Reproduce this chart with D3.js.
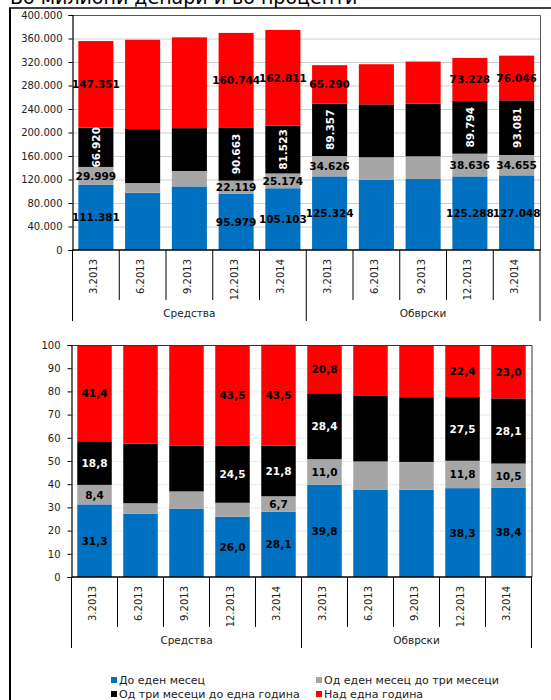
<!DOCTYPE html>
<html>
<head>
<meta charset="utf-8">
<script src="https://cdn.jsdelivr.net/npm/d3@7"></script>
<style>
  html, body { margin: 0; padding: 0; background: #fff; }
  svg { display: block; }
  text { font-family: "DejaVu Sans", Verdana, sans-serif; }
</style>
</head>
<body>
<svg id="chart" width="551" height="700"></svg>
<script>
// ---------- data ----------
const titleText = "Во милиони денари и во проценти";
const dates = ["3.2013", "6.2013", "9.2013", "12.2013", "3.2014"];
const groups = ["Средства", "Обврски"];
const seriesNames = ["До еден месец", "Од еден месец до три месеци", "Од три месеци до една година", "Над една година"];
const seriesColors = ["#0070C0", "#A6A6A6", "#000000", "#FF0000"];

// amounts, millions of denars (Средства x5, then Обврски x5)
const upToOneMonth        = [111381,  97500, 108200,  95979, 105103, 125324, 119700, 120800, 125288, 127048];
const oneToThreeMonths    = [ 29999,  16500,  26300,  22119,  25174,  34626,  38100,  38700,  38636,  34655];
const threeMonthsToOneYear= [ 66920,  92000,  72900,  90663,  81523,  89357,  90100,  89500,  89794,  93081];
const overOneYear         = [147351, 151800, 154600, 160744, 162811,  65290,  68300,  71800,  73228,  76046];

// shares, percent
const shareUpToOneMonth   = [31.3, 27.2, 29.5, 26.0, 28.1, 39.8, 37.7, 37.6, 38.3, 38.4];
const shareOneToThree     = [ 8.4,  4.6,  7.4,  6.0,  6.7, 11.0, 12.1, 12.0, 11.8, 10.5];
const shareThreeToYear    = [18.8, 25.7, 19.8, 24.5, 21.8, 28.4, 28.5, 27.9, 27.5, 28.1];
const shareOverYear       = [41.4, 42.5, 43.3, 43.5, 43.5, 20.8, 21.7, 22.5, 22.4, 23.0];

const amountTicks = [0, 40000, 80000, 120000, 160000, 200000, 240000, 280000, 320000, 360000, 400000];
const shareTicks  = [0, 10, 20, 30, 40, 50, 60, 70, 80, 90, 100];

// which bars carry data labels; [series, bar] pairs without label in the share chart
const labeledBars = [0, 3, 4, 5, 8, 9];
const hiddenShareLabels = [[1, 3]];

// ---------- helpers ----------
const locale = d3.formatLocale({ decimal: ",", thousands: ".", grouping: [3], currency: ["", ""] });
const fmtAmount = locale.format(",.0f");
const fmtShare = locale.format(".1f");

const categories = [];
groups.forEach(g => dates.forEach(d => categories.push({ group: g, date: d })));

function buildRows(arrs) {
  return categories.map((c, i) => {
    const r = { i };
    arrs.forEach((a, k) => r["s" + k] = a[i]);
    return r;
  });
}
const keys = ["s0", "s1", "s2", "s3"];

const svg = d3.select("#chart");

// title (cut at top) and frame
svg.append("text").attr("x", 10).attr("y", 4).attr("font-size", 19).attr("fill", "#000").text(titleText);
svg.append("line").attr("x1", 9).attr("x2", 551).attr("y1", 8).attr("y2", 8).attr("stroke", "#000").attr("stroke-width", 1.5);
svg.append("line").attr("x1", 10).attr("x2", 10).attr("y1", 8).attr("y2", 700).attr("stroke", "#000").attr("stroke-width", 2);

function drawChart(opt) {
  const g = svg.append("g");
  const x = d3.scaleBand().domain(d3.range(categories.length)).range([opt.left, opt.right])
    .paddingInner(0.25).paddingOuter(0.125);
  const y = d3.scaleLinear().domain(opt.domain).range([opt.bottom, opt.top]);
  const step = x.step();

  // grid
  g.append("g").selectAll("line").data(opt.ticks.filter(t => t > opt.domain[0] && t < opt.domain[1]))
    .join("line")
    .attr("x1", opt.left).attr("x2", opt.right)
    .attr("y1", d => y(d) + 0.5).attr("y2", d => y(d) + 0.5)
    .attr("stroke", opt.gridColor).attr("stroke-width", 1)
    .attr("stroke-dasharray", opt.gridDash);

  // bars
  const stacked = d3.stack().keys(keys)(buildRows(opt.values));
  stacked.forEach((layer, k) => {
    g.append("g").selectAll("rect").data(layer).join("rect")
      .attr("x", (d, i) => x(i))
      .attr("width", x.bandwidth())
      .attr("y", d => y(d[1]))
      .attr("height", d => y(d[0]) - y(d[1]))
      .attr("fill", seriesColors[k]);
  });

  // plot border (top + right)
  g.append("path")
    .attr("d", `M${opt.left},${opt.top + 0.5}H${opt.right + 0.5}V${opt.bottom}`)
    .attr("fill", "none").attr("stroke", opt.borderColor).attr("stroke-width", 1);

  // y axis
  const ya = g.append("g").attr("transform", `translate(${opt.left},0)`)
    .call(d3.axisLeft(y).tickValues(opt.ticks).tickSize(4).tickPadding(opt.tickPad).tickFormat(opt.tickFmt));
  ya.select(".domain").attr("stroke", "#000").attr("stroke-width", 1.2);
  ya.selectAll(".tick line").attr("stroke", "#000");
  ya.selectAll(".tick text").attr("font-size", 10).attr("fill", "#222")
    .attr("font-family", "DejaVu Sans, sans-serif");

  // x axis line
  g.append("line").attr("x1", opt.left).attr("x2", opt.right + 0.5)
    .attr("y1", opt.bottom).attr("y2", opt.bottom).attr("stroke", "#000").attr("stroke-width", 1.5);

  // category separators
  const r0 = x.range()[0];
  d3.range(categories.length + 1).forEach(i => {
    const isGroup = i % dates.length === 0;
    g.append("line")
      .attr("x1", r0 + i * step).attr("x2", r0 + i * step)
      .attr("y1", opt.bottom).attr("y2", opt.bottom + (isGroup ? 71 : 50))
      .attr("stroke", "#000").attr("stroke-width", 1);
  });
  // date labels
  g.append("g").selectAll("text").data(categories).join("text")
    .attr("transform", (d, i) => `translate(${x(i) + x.bandwidth() / 2 - 2},${opt.bottom + 9}) rotate(-90)`)
    .attr("text-anchor", "end").attr("dominant-baseline", "central")
    .attr("font-size", 10).attr("fill", "#222")
    .text(d => d.date);
  // group labels
  groups.forEach((gr, gi) => {
    const cx = r0 + (gi * dates.length + dates.length / 2) * step;
    g.append("text").attr("x", cx).attr("y", opt.bottom + 63)
      .attr("text-anchor", "middle").attr("dominant-baseline", "central")
      .attr("font-size", 10.5).attr("fill", "#222").text(gr);
  });

  // data labels
  stacked.forEach((layer, k) => {
    layer.forEach((d, i) => {
      if (!labeledBars.includes(i)) return;
      if (opt.hidden && opt.hidden.some(h => h[0] === k && h[1] === i)) return;
      const cx = x(i) + x.bandwidth() / 2;
      const cy = (y(d[0]) + y(d[1])) / 2;
      const val = d[1] - d[0];
      const rot = opt.rotateBlack && k === 2;
      g.append("text")
        .attr("transform", `translate(${cx},${cy})${rot ? " rotate(-90)" : ""}`)
        .attr("text-anchor", "middle").attr("dominant-baseline", "central")
        .attr("font-size", 10.5).attr("font-weight", "bold")
        .attr("fill", k === 2 ? "#fff" : "#000")
        .text(opt.labelFmt(opt.values[k][i]));
    });
  });
}

drawChart({
  left: 72.5, right: 540, top: 15, bottom: 250,
  domain: [0, 400000], ticks: amountTicks, tickFmt: d => d === 0 ? "0" : fmtAmount(d), tickPad: 6,
  values: [upToOneMonth, oneToThreeMonths, threeMonthsToOneYear, overOneYear],
  gridColor: "#cfcfcf", gridDash: null, borderColor: "#555",
  labelFmt: fmtAmount, rotateBlack: true
});

drawChart({
  left: 71.5, right: 531.5, top: 345, bottom: 577,
  domain: [0, 100], ticks: shareTicks, tickFmt: d => String(d), tickPad: 7,
  values: [shareUpToOneMonth, shareOneToThree, shareThreeToYear, shareOverYear],
  gridColor: "#c4c4c4", gridDash: "1,2", borderColor: "#333",
  labelFmt: fmtShare, rotateBlack: false, hidden: hiddenShareLabels
});

// legend
const legendPos = [[111, 680], [316, 680], [111, 694], [316, 694]];
seriesNames.forEach((name, k) => {
  const [lx, ly] = legendPos[k];
  svg.append("rect").attr("x", lx).attr("y", ly - 3).attr("width", 6).attr("height", 6).attr("fill", seriesColors[k]);
  svg.append("text").attr("x", lx + 8).attr("y", ly).attr("dominant-baseline", "central")
    .attr("font-size", 11).attr("fill", "#222").text(name);
});
</script>
</body>
</html>
